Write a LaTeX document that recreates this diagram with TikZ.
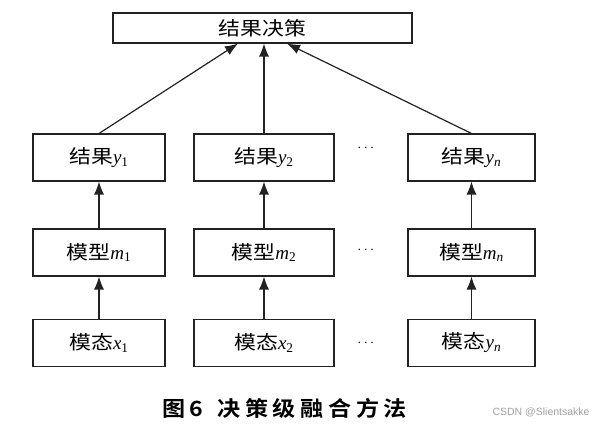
\documentclass[tikz,border=0pt]{standalone}
\usepackage{fontspec}
\usepackage{amsmath}
\usetikzlibrary{arrows.meta, positioning, calc}
\setmainfont{Liberation Serif}
\newfontfamily\song[FakeStretch=1.15]{Noto Sans CJK SC}
\newfontfamily\capsong[FakeStretch=1.1, LetterSpace=22]{Noto Sans CJK SC Bold}
\newfontfamily\wmfont{Liberation Sans}
\definecolor{inkline}{HTML}{222222}
\definecolor{inkmark}{HTML}{A0A0A0}
\tikzset{
  stagebox/.style={draw=inkline, line width=1.1pt, minimum height=47pt,
    inner sep=0pt, font=\fontsize{19}{22}\selectfont},
  uparrow/.style={draw=inkline, line width=1.2pt,
    -{Latex[length=13pt, width=10pt]}},
  gapdots/.style={font=\fontsize{15}{17}\selectfont, inner sep=0pt},
}
\newcommand{\zh}[1]{{\song #1}}
\newcommand{\sym}[2]{\textit{#1}\textsubscript{#2}}

\begin{document}
\begin{tikzpicture}[x=1pt, y=-1pt]
  \useasboundingbox (0,0) rectangle (594,425);
  % decision at the top
  \node[stagebox, minimum width=299pt, minimum height=30pt] (fuse) at (262.5,28) {\zh{结果决策}};
  % results
  \node[stagebox, minimum width=132pt] (res1) at (99,157.5) {\zh{结果}\sym{y}{1}};
  \node[stagebox, minimum width=140pt] (res2) at (264,157.5) {\zh{结果}\sym{y}{2}};
  \node[stagebox, minimum width=127pt] (resn) at (471.5,157.5) {\zh{结果}\sym{y}{\textit{n}}};
  % models
  \node[stagebox, minimum width=132pt] (mod1) at (99,252.5) {\zh{模型}\sym{m}{1}};
  \node[stagebox, minimum width=140pt] (mod2) at (264,252.5) {\zh{模型}\sym{m}{2}};
  \node[stagebox, minimum width=127pt] (modn) at (471.5,252.5) {\zh{模型}\sym{m}{\textit{n}}};
  % modalities
  \node[stagebox, minimum width=132pt] (src1) at (99,343) {\zh{模态}\sym{x}{1}};
  \node[stagebox, minimum width=140pt] (src2) at (264,343) {\zh{模态}\sym{x}{2}};
  \node[stagebox, minimum width=127pt] (srcn) at (471.5,343) {\zh{模态}\sym{y}{\textit{n}}};
  \node[gapdots] (dots1) at (367,148) {$\cdots$};
  \node[gapdots] (dots2) at (367,250) {$\cdots$};
  \node[gapdots] (dots3) at (367,343) {$\cdots$};

  \draw[uparrow] (src1) -- (mod1);
  \draw[uparrow] (src2) -- (mod2);
  \draw[uparrow] (srcn) -- (modn);
  \draw[uparrow] (mod1) -- (res1);
  \draw[uparrow] (mod2) -- (res2);
  \draw[uparrow] (modn) -- (resn);
  \draw[uparrow] (res1.north) -- ([xshift=-24.5pt]fuse.south);
  \draw[uparrow] (res2.north) -- (fuse.south -| res2.north);
  \draw[uparrow] (resn.north) -- ([xshift=24.5pt]fuse.south);

  \node (caption) at (284.5,408) {\fontsize{21}{24}\selectfont\capsong 图6\hspace{14pt}决策级融合方法};
  \node[anchor=west, text=inkmark, font=\wmfont\fontsize{10.5}{12}\selectfont] (mark) at (489,412) {CSDN @Slientsakke};
\end{tikzpicture}
\end{document}
